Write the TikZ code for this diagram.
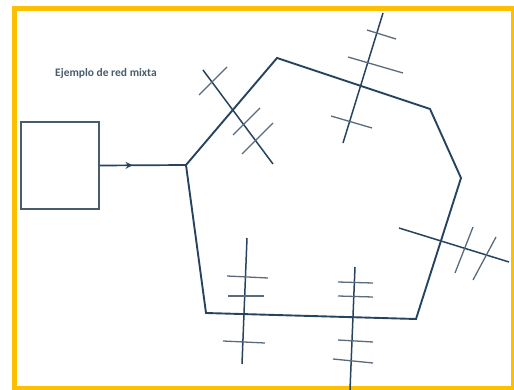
\documentclass[tikz,border=0pt]{standalone}
\usepackage{fontspec}
\setmainfont{Carlito}
\usetikzlibrary{
    arrows.meta,
    positioning,
    decorations.markings
}
\definecolor{netBlue}{RGB}{38,68,95}
\definecolor{antGrey}{RGB}{72,92,108}
\definecolor{frameYellow}{RGB}{252,192,0}
\tikzset{
  ring/.style    = {draw=netBlue, line width=1.9pt, line join=miter},
  mast/.style    = {draw=netBlue, line width=1.5pt},
  bar/.style     = {draw=antGrey!90, line width=1.3pt},
  hostbox/.style = {draw=antGrey, line width=1.5pt, minimum width=78pt,
                    minimum height=87pt, inner sep=0pt},
  feed/.style    = {netBlue, line width=1.7pt, postaction={decorate},
                    decoration={markings, mark=at position 0.38 with
                    {\arrow{Stealth[length=7pt,width=7pt,inset=2.5pt]}}}}
}

\begin{document}
\begin{tikzpicture}[x=1pt,y=-1pt]
    \useasboundingbox (0,0) rectangle (514,390);
    \draw[frameYellow, line width=5pt] (14,9) rectangle (513.5,388.5);

    \node[font=\fontsize{11.5}{13}\selectfont\bfseries, text=antGrey] (title) at (106,73) {Ejemplo de red mixta};
    \node[hostbox] (host) at (60,165.5) {};

    % ring of the network
    \coordinate (A) at (186,165);
    \coordinate (B) at (277,58);
    \coordinate (C) at (430,109);
    \coordinate (D) at (461,178);
    \coordinate (E) at (416,319);
    \coordinate (F) at (206,313);
    \draw[ring] (A) -- (B) -- (C) -- (D) -- (E) -- (F) -- cycle;
    \draw[feed] (host.east) -- (A);

    % antennas
    \coordinate (m1a) at (203,70);  \coordinate (m1b) at (273,164);
    \coordinate (m2a) at (383,13);  \coordinate (m2b) at (343,143);
    \coordinate (m3a) at (399,228); \coordinate (m3b) at (509,262);
    \coordinate (m4a) at (247,238); \coordinate (m4b) at (242,364);
    \coordinate (m5a) at (355,267); \coordinate (m5b) at (350,390);
    \draw[mast] (m1a) -- (m1b);
    \draw[mast] (m2a) -- (m2b);
    \draw[mast] (m3a) -- (m3b);
    \draw[mast] (m4a) -- (m4b);
    \draw[mast] (m5a) -- (m5b);

    % cross bars
    \draw[bar] (199,95) -- (227,67);
    \draw[bar] (233,135) -- (260,108);
    \draw[bar] (242,154) -- (273,123);

    \draw[bar] (367,30) -- (396,39);
    \draw[bar] (348,57) -- (403,73);
    \draw[bar] (331,116) -- (372,128);

    \draw[bar] (473,227) -- (455,273);
    \draw[bar] (496,237) -- (473,280);

    \draw[bar] (227,276) -- (268,278);
    \draw[bar] (228,296) -- (264,296);
    \draw[bar] (223,341) -- (265,343);

    \draw[bar] (338,282) -- (373,283);
    \draw[bar] (338,296) -- (373,297);
    \draw[bar] (338,340) -- (373,342);
    \draw[bar] (333,359) -- (373,363);
\end{tikzpicture}
\end{document}
